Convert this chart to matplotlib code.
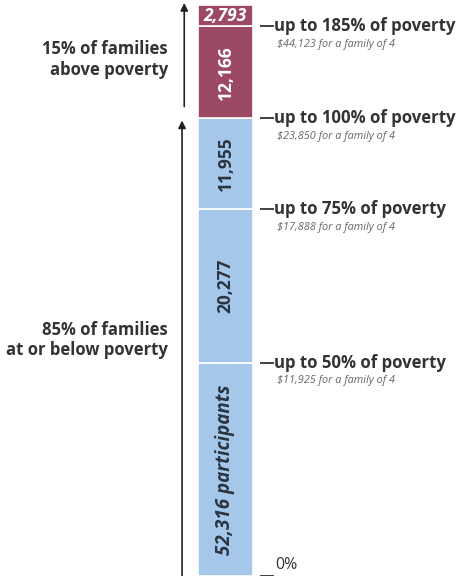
import numpy as np
import matplotlib
matplotlib.use("Agg")
from matplotlib import pyplot as plt
from matplotlib.transforms import blended_transform_factory

# participants in each income band, bottom to top
counts = [52316, 20277, 11955, 12166, 2793]
count_labels = ["52,316 participants", "20,277", "11,955", "12,166", "2,793"]
band_colors = ["#a5c8ea", "#a5c8ea", "#a5c8ea", "#9c4a63", "#9c4a63"]
text_colors = ["#2b3440", "#2b3440", "#2b3440", "white", "white"]
label_italic = [True, False, False, False, True]

tick_labels = ["0%", "up to 50% of poverty", "up to 75% of poverty",
               "up to 100% of poverty", "up to 185% of poverty"]
tick_notes = ["", "$11,925 for a family of 4", "$17,888 for a family of 4",
              "$23,850 for a family of 4", "$44,123 for a family of 4"]

group_labels = ["85% of families\nat or below poverty", "15% of families\nabove poverty"]
group_split = 3  # first 3 bands are at or below poverty

bottoms = np.concatenate([[0], np.cumsum(counts)[:-1]])
total = sum(counts)
tick_pos = list(bottoms)

# the bottom band is drawn compressed, as in the original graphic
brk = counts[0]
k = 0.537


def fwd(y):
    y = np.asarray(y, dtype=float)
    return np.where(y < brk, y * k, brk * k + (y - brk))


def inv(y):
    y = np.asarray(y, dtype=float)
    return np.where(y < brk * k, y / k, y - brk * k + brk)


px = 131.8  # data units per pixel in the upper part

fig = plt.figure(figsize=(4.64, 5.76), dpi=100)
ax = fig.add_axes([198 / 464, 0, 55 / 464, 1 - 5 / 576])
ax.set_yscale("function", functions=(fwd, inv))

ax.bar(0, counts, bottom=bottoms, width=1, color=band_colors,
       edgecolor="white", linewidth=1.2)
ax.set_xlim(-0.5, 0.5)
ax.set_ylim(0, total)

for c, b, lab, tc, it in zip(counts, bottoms, count_labels, text_colors,
                             label_italic):
    rot = 0 if c < 5000 else 90
    fs = 13.5 if len(lab) > 10 else 12.5
    ax.text(0, inv((fwd(b) + fwd(b + c)) / 2), lab, rotation=rot, ha="center",
            va="center", color=tc, fontsize=fs, fontweight="bold",
            style="italic" if it else "normal", family="Open Sans")

for name, sp in ax.spines.items():
    sp.set_visible(False)
ax.spines["right"].set_position(("outward", 5))
ax.set_xticks([])
ax.yaxis.tick_right()
ax.set_yticks(tick_pos)
ax.set_yticklabels([])
ax.tick_params(axis="y", length=10, width=1.3, color="#333333", pad=2)

tr = blended_transform_factory(ax.transAxes, ax.transData)
for pos, lab, note in zip(tick_pos, tick_labels, tick_notes):
    if pos == 0:
        ax.text(1.4, inv(fwd(pos) + 3 * px), lab, transform=tr, ha="left",
                va="bottom", fontsize=11.5, color="#333333",
                family="Open Sans", clip_on=False)
        continue
    ax.text(1.39, pos, lab, transform=tr, ha="left", va="center",
            fontsize=12.1, fontweight="bold", color="#333333",
            family="Open Sans", clip_on=False)
    ax.text(1.44, inv(fwd(pos) - 18 * px), note.replace("$", r"\$"),
            transform=tr, ha="left", va="center", fontsize=7.8,
            style="italic", color="#666666", family="Open Sans",
            clip_on=False)

# arrows spanning each group
lo_top = bottoms[group_split]
arrow_spans = [(0, lo_top - 2 * px), (lo_top + 12 * px, total + 2 * px)]
arrow_x = [-0.29, -0.25]
for (y0, y1), ax_x in zip(arrow_spans, arrow_x):
    ax.annotate("", xy=(ax_x, y1), xytext=(ax_x, y0), xycoords=tr,
                textcoords=tr,
                arrowprops=dict(arrowstyle="-|>", color="#222222", lw=1.2,
                                mutation_scale=11, shrinkA=0, shrinkB=0),
                annotation_clip=False)

ax.text(-0.55, 55350, group_labels[0], transform=tr, ha="right", va="center",
        fontsize=12, fontweight="bold", color="#333333", family="Open Sans",
        linespacing=1.2, clip_on=False)
ax.text(-0.55, 92300, group_labels[1], transform=tr, ha="right", va="center",
        fontsize=12, fontweight="bold", color="#333333", family="Open Sans",
        linespacing=1.2, clip_on=False)

fig.savefig("out.png", dpi=100)
